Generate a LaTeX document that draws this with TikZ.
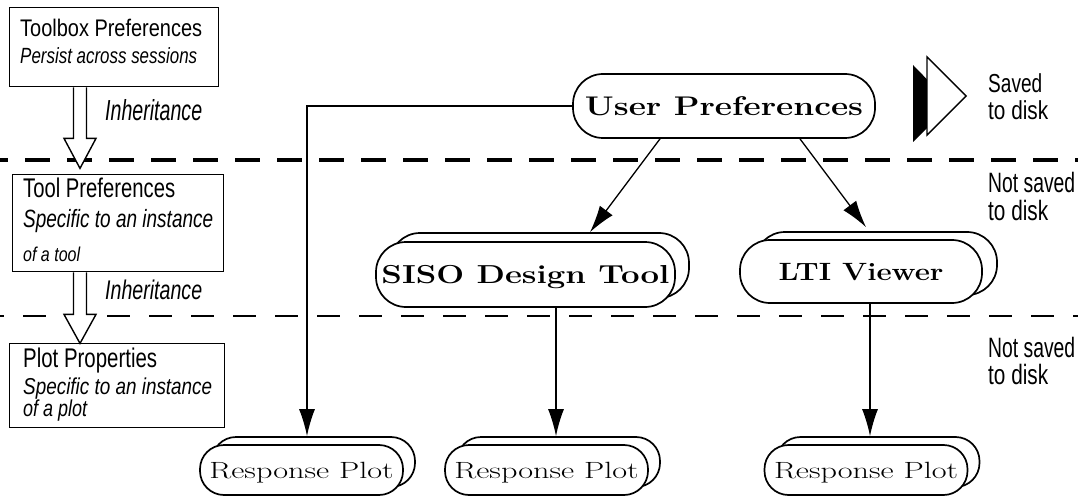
\documentclass[tikz,border=0pt]{standalone}
\usepackage{fontspec}
\usepackage{graphicx}
\setsansfont{Liberation Sans}
\usetikzlibrary{arrows.meta,calc}
\newcommand{\lbl}[3]{\resizebox{#2pt}{\height}{\sffamily\fontsize{#1pt}{#1pt}\selectfont #3}}
\newcommand{\ilbl}[3]{\resizebox{#2pt}{\height}{\sffamily\itshape\fontsize{#1pt}{#1pt}\selectfont #3}}
\newcommand{\bsf}[3]{\resizebox{#2pt}{\height}{\bfseries\fontsize{#1pt}{#1pt}\selectfont #3}}
\newcommand{\rsf}[3]{\resizebox{#2pt}{\height}{\fontsize{#1pt}{#1pt}\selectfont #3}}
\begin{document}
\begin{tikzpicture}[x=1pt,y=-1pt,
  box/.style={draw, line width=1.4pt, inner sep=0pt, anchor=north west},
  pill/.style={draw, fill=white, line width=1.7pt, inner sep=0pt, text depth=0pt},
  conn/.style={line width=1.3pt, -{Latex[length=27pt,width=16pt]}},
  hollow/.style={draw, fill=white, line width=1.4pt, line join=miter},
  lab/.style={inner sep=0pt, anchor=base west},
  thickdash/.style={line width=3.5pt, dash pattern=on 25pt off 17pt, dash phase=17pt},
  thindash/.style={line width=1.5pt, dash pattern=on 23pt off 19pt, dash phase=19pt}]
\useasboundingbox[fill=white] (0,0) rectangle (1078,497);

% separating dashed lines
\draw[thickdash] (0,160) -- (1078,160);
\draw[thindash] (0,316) -- (1078,316);

% left column boxes
\node[box, minimum width=209pt, minimum height=79pt] (tb) at (9,7) {};
\node[box, minimum width=211pt, minimum height=97pt] (tp) at (12,174) {};
\node[box, minimum width=215pt, minimum height=84pt] (pp) at (9,343) {};

\node[lab] (tb1) at (20,37) {\lbl{24}{182}{Toolbox Preferences}};
\node[lab] (tb2) at (20,64) {\ilbl{22}{177}{Persist across sessions}};
\node[lab] (tp1) at (23,197) {\lbl{27}{152}{Tool Preferences}};
\node[lab] (tp2) at (23,227) {\ilbl{25}{190}{Specific to an instance}};
\node[lab] (tp3) at (23,261) {\ilbl{20}{57}{of a tool}};
\node[lab] (pp1) at (23,367) {\lbl{27}{134}{Plot Properties}};
\node[lab] (pp2) at (23,394) {\ilbl{23}{189}{Specific to an instance}};
\node[lab] (pp3) at (23,416) {\ilbl{23}{64}{of a plot}};

% hollow inheritance arrows
\draw[hollow] ($(tb.south west)+(64.5,0)$) -- ++(0,51) -- ++(-9.5,0) -- ++(16,30)
  -- ++(16,-30) -- ++(-9.5,0) -- ++(0,-51);
\draw[hollow] ($(tp.south west)+(61.5,0)$) -- ++(0,42) -- ++(-9.5,0) -- ++(16,29)
  -- ++(16,-29) -- ++(-9.5,0) -- ++(0,-42);
\node[lab] (inh1) at (105,121) {\ilbl{29}{97}{Inheritance}};
\node[lab] (inh2) at (105,299) {\ilbl{27}{97}{Inheritance}};

% saved to disk symbol
\fill (913,65) -- (913,142) -- (951,104) -- cycle;
\draw[fill=white, line width=1.4pt, line join=miter] (927,57) -- (927,135) -- (966,96) -- cycle;

% right labels
\node[lab] (s1) at (988,93) {\lbl{26}{54}{Saved}};
\node[lab] (s2) at (988,120) {\lbl{26}{60}{to disk}};
\node[lab] (n1) at (988,193) {\lbl{28}{87}{Not saved}};
\node[lab] (n2) at (988,220) {\lbl{28}{60}{to disk}};
\node[lab] (m1) at (988,357) {\lbl{28}{87}{Not saved}};
\node[lab] (m2) at (988,384) {\lbl{28}{60}{to disk}};

% user preferences
\node[pill, rounded corners=30pt, minimum width=302pt, minimum height=64pt, text height=19pt]
  (up) at (724,106) {\bsf{27}{278}{User Preferences}};

% SISO design tool
\node[pill, rounded corners=30pt, minimum width=299pt, minimum height=65pt] (sisob) at (539.5,265.5) {};
\node[pill, rounded corners=30pt, minimum width=299pt, minimum height=65pt, text height=18pt]
  (siso) at (525.5,274.5) {\bsf{26}{288}{SISO Design Tool}};

% LTI viewer
\node[pill, rounded corners=30pt, minimum width=242pt, minimum height=63pt] (ltib) at (876,263.5) {};
\node[pill, rounded corners=30pt, minimum width=242pt, minimum height=63pt, text height=17pt]
  (lti) at (861,271.5) {\bsf{25}{165}{LTI Viewer}};

% response plots
\foreach \n/\cx in {rp1/301.5, rp2/546.5, rp3/866}{
  \node[pill, rounded corners=24pt, minimum width=203pt, minimum height=50pt] (\n b) at (\cx+12,462) {};
  \node[pill, rounded corners=24pt, minimum width=203pt, minimum height=50pt, text height=16pt]
    (\n) at (\cx,470) {\rsf{23.5}{184}{Response Plot}};
}

% connectors
\draw[conn] (up.west) -| ($(rp1b.north)+(-6.5,0)$);
\draw[conn] ($(up.south)+(-64,0)$) -- ($(sisob.north)+(50.5,0)$);
\draw[conn] ($(up.south)+(76,0)$) -- ($(ltib.north)+(-10,-4)$);
\draw[conn] ($(rp2b.north |- siso.south)+(-2.5,0)$) -- ($(rp2b.north)+(-2.5,0)$);
\draw[conn] ($(rp3b.north |- lti.south)+(-8,0)$) -- ($(rp3b.north)+(-8,0)$);
\end{tikzpicture}
\end{document}
